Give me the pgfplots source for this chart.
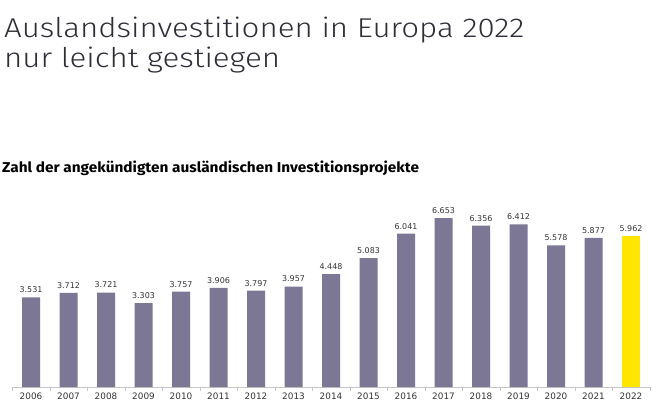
\documentclass[border=0pt]{standalone}
\usepackage{pgfplots}
\pgfplotsset{compat=1.18}
\usepackage{fontspec}
\setmainfont{Fira Sans}
\newfontfamily\titlefont[FakeStretch=1.15]{Fira Sans Light}
\newfontfamily\subfont[FakeStretch=1.08]{Fira Sans}
\newfontfamily\labelfont{DejaVu Sans}
\definecolor{barcol}{HTML}{7B7794}
\definecolor{eyyellow}{HTML}{FFE600}
\definecolor{titlecol}{HTML}{2E2E38}
\definecolor{lblcol}{HTML}{333333}
\begin{document}
\begin{tikzpicture}[x=1bp,y=1bp]
\path[use as bounding box] (0,0) rectangle (658,418);
\node[anchor=base west, inner sep=0, text=titlecol, font=\titlefont\fontsize{27.3}{30}\selectfont] at (4,381) {Auslandsinvestitionen in Europa 2022};
\node[anchor=base west, inner sep=0, text=titlecol, font=\titlefont\fontsize{27.3}{30}\selectfont] at (4,351) {nur leicht gestiegen};
\node[anchor=base west, inner sep=0, text=black, font=\subfont\fontsize{14.3}{16}\selectfont\bfseries] at (2,245.5) {Zahl der angekündigten ausländischen Investitionsprojekte};
\begin{axis}[
  at={(12bp,31bp)}, anchor=south west,
  scale only axis, width=638bp, height=177.6bp,
  xmin=-0.507, xmax=16.507, ymin=0, ymax=7000,
  axis x line*=bottom, axis y line=none,
  x axis line style={draw=gray!45,-},
  ybar, bar width=18bp, bar shift=0pt,
  xtick={0,...,16},
  xticklabels={2006,2007,2008,2009,2010,2011,2012,2013,2014,2015,2016,2017,2018,2019,2020,2021,2022},
  minor xtick={-0.5,0.5,...,16.5},
  major tick length=0pt, minor tick length=4bp,
  xtick align=outside,
  minor x tick style={draw=gray!45},
  xticklabel style={font=\labelfont\fontsize{8.9}{10}\selectfont, text=lblcol, yshift=-2bp},
  ytick=\empty,
  point meta=explicit symbolic,
  nodes near coords,
  every node near coord/.append style={font=\labelfont\fontsize{8}{9}\selectfont, text=lblcol, yshift=1bp},
  clip=false,
]
\addplot[fill=barcol, draw=none] coordinates {
(0,3531) [3.531]
(1,3712) [3.712]
(2,3721) [3.721]
(3,3303) [3.303]
(4,3757) [3.757]
(5,3906) [3.906]
(6,3797) [3.797]
(7,3957) [3.957]
(8,4448) [4.448]
(9,5083) [5.083]
(10,6041) [6.041]
(11,6653) [6.653]
(12,6356) [6.356]
(13,6412) [6.412]
(14,5578) [5.578]
(15,5877) [5.877]
};
\addplot[fill=eyyellow, draw=none] coordinates {
(16,5962) [5.962]
};
\end{axis}
\end{tikzpicture}
\end{document}
